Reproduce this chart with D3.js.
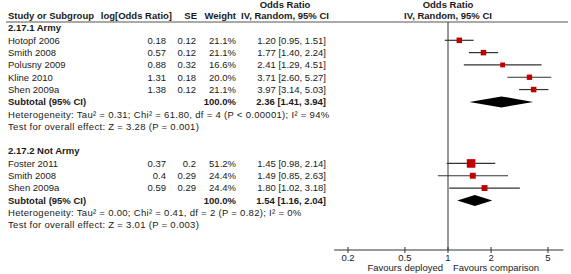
<!DOCTYPE html>
<html>
<head>
<meta charset="utf-8">
<script src="https://cdn.jsdelivr.net/npm/d3@7/dist/d3.min.js"></script>
<style>
  body { margin: 0; background: #fff; }
  svg text { font-family: "Liberation Sans", Arial, sans-serif; font-size: 9.5px; fill: #1a1a1a; }
  .b { font-weight: bold; }
  .stat { letter-spacing: 0.3px; }
</style>
</head>
<body>
<div id="chart"></div>
<script>
// subgroup 2.17.1 Army
var armyStudies = ['Hotopf 2006', 'Smith 2008', 'Polusny 2009', 'Kline 2010', 'Shen 2009a'];
var armyLogOR = ['0.18', '0.57', '0.88', '1.31', '1.38'];
var armySE = ['0.12', '0.12', '0.32', '0.18', '0.12'];
var armyWeight = [21.1, 21.1, 16.6, 20.0, 21.1];
var armyOR = [1.20, 1.77, 2.41, 3.71, 3.97];
var armyLo = [0.95, 1.40, 1.29, 2.60, 3.14];
var armyHi = [1.51, 2.24, 4.51, 5.27, 5.03];
var armyTotal = [2.36, 1.41, 3.94];
var armyHet = 'Heterogeneity: Tau\u00b2 = 0.31; Chi\u00b2 = 61.80, df = 4 (P < 0.00001); I\u00b2 = 94%';
var armyTest = 'Test for overall effect: Z = 3.28 (P = 0.001)';

// subgroup 2.17.2 Not Army
var notArmyStudies = ['Foster 2011', 'Smith 2008', 'Shen 2009a'];
var notArmyLogOR = ['0.37', '0.4', '0.59'];
var notArmySE = ['0.2', '0.29', '0.29'];
var notArmyWeight = [51.2, 24.4, 24.4];
var notArmyOR = [1.45, 1.49, 1.80];
var notArmyLo = [0.98, 0.85, 1.02];
var notArmyHi = [2.14, 2.63, 3.18];
var notArmyTotal = [1.54, 1.16, 2.04];
var notArmyHet = 'Heterogeneity: Tau\u00b2 = 0.00; Chi\u00b2 = 0.41, df = 2 (P = 0.82); I\u00b2 = 0%';
var notArmyTest = 'Test for overall effect: Z = 3.01 (P = 0.003)';

var tickValues = [0.2, 0.5, 1, 2, 5];
var axisExtent = [0.16, 6.4];

var width = 571;
var height = 274;

var svg = d3.select('#chart')
  .append('svg')
  .attr('width', width)
  .attr('height', height);

var x = d3.scaleLog().domain([0.2, 5]).range([348, 548]);
var rowY = d3.scaleLinear().domain([0, 16]).range([28, 225]);

var col = { name: 8, logOR: 166, se: 196, weight: 236, ci: 326, ciHead: 285 };

function fmt(v) { return d3.format('.2f')(v); }

// headers
svg.append('text').attr('class', 'b').attr('x', col.ciHead).attr('y', 5).attr('dy', '0.35em')
  .attr('text-anchor', 'middle').text('Odds Ratio');
svg.append('text').attr('class', 'b').attr('x', x(1)).attr('y', 5).attr('dy', '0.35em')
  .attr('text-anchor', 'middle').text('Odds Ratio');
var head = [
  { t: 'Study or Subgroup', x: col.name, a: 'start' },
  { t: 'log[Odds Ratio]', x: 172, a: 'end' },
  { t: 'SE', x: 197, a: 'end' },
  { t: 'Weight', x: col.weight, a: 'end' },
  { t: 'IV, Random, 95% CI', x: col.ciHead, a: 'middle' },
  { t: 'IV, Random, 95% CI', x: x(1), a: 'middle' }
];
svg.selectAll('.head').data(head).enter().append('text')
  .attr('class', 'head b')
  .attr('x', function (d) { return d.x; })
  .attr('y', 16).attr('dy', '0.35em')
  .attr('text-anchor', function (d) { return d.a; })
  .text(function (d) { return d.t; });

svg.append('line').attr('x1', 6).attr('x2', 568).attr('y1', 22).attr('y2', 22)
  .attr('stroke', '#555').attr('stroke-width', 1);

// null line
svg.append('line').attr('x1', x(1)).attr('x2', x(1)).attr('y1', 22).attr('y2', 250)
  .attr('stroke', '#333').attr('stroke-width', 1);

function subgroup(title, startRow, studies, logOR, se, weight, or, lo, hi, total, het, test) {
  var rows = studies.map(function (s, i) {
    return { name: s, logOR: logOR[i], se: se[i], w: weight[i], or: or[i], lo: lo[i], hi: hi[i], y: rowY(startRow + 1 + i) };
  });
  var g = svg.append('g');
  g.append('text').attr('class', 'b').attr('x', col.name).attr('y', rowY(startRow)).attr('dy', '0.35em').text(title);

  var r = g.selectAll('.row').data(rows).enter().append('g').attr('class', 'row');
  r.append('text').attr('x', col.name).attr('y', function (d) { return d.y; }).attr('dy', '0.35em')
    .text(function (d) { return d.name; });
  r.append('text').attr('x', col.logOR).attr('y', function (d) { return d.y; }).attr('dy', '0.35em')
    .attr('text-anchor', 'end').text(function (d) { return d.logOR; });
  r.append('text').attr('x', col.se).attr('y', function (d) { return d.y; }).attr('dy', '0.35em')
    .attr('text-anchor', 'end').text(function (d) { return d.se; });
  r.append('text').attr('x', col.weight).attr('y', function (d) { return d.y; }).attr('dy', '0.35em')
    .attr('text-anchor', 'end').text(function (d) { return d3.format('.1f')(d.w) + '%'; });
  r.append('text').attr('x', col.ci).attr('y', function (d) { return d.y; }).attr('dy', '0.35em')
    .attr('text-anchor', 'end').text(function (d) { return fmt(d.or) + ' [' + fmt(d.lo) + ', ' + fmt(d.hi) + ']'; });

  r.append('line')
    .attr('x1', function (d) { return x(d.lo); })
    .attr('x2', function (d) { return x(d.hi); })
    .attr('y1', function (d) { return d.y; })
    .attr('y2', function (d) { return d.y; })
    .attr('stroke', '#333').attr('stroke-width', 1.2);
  r.append('rect')
    .attr('x', function (d) { return x(d.or) - Math.sqrt(d.w) * 0.6; })
    .attr('y', function (d) { return d.y - Math.sqrt(d.w) * 0.6; })
    .attr('width', function (d) { return Math.sqrt(d.w) * 1.2; })
    .attr('height', function (d) { return Math.sqrt(d.w) * 1.2; })
    .attr('fill', '#c00000');

  var sy = rowY(startRow + 1 + studies.length);
  g.append('text').attr('class', 'b').attr('x', col.name).attr('y', sy).attr('dy', '0.35em').text('Subtotal (95% CI)');
  g.append('text').attr('class', 'b').attr('x', col.weight).attr('y', sy).attr('dy', '0.35em')
    .attr('text-anchor', 'end').text('100.0%');
  g.append('text').attr('class', 'b').attr('x', col.ci).attr('y', sy).attr('dy', '0.35em')
    .attr('text-anchor', 'end').text(fmt(total[0]) + ' [' + fmt(total[1]) + ', ' + fmt(total[2]) + ']');
  g.append('path')
    .attr('d', 'M' + x(total[1]) + ',' + sy + 'L' + x(total[0]) + ',' + (sy - 5.5) +
      'L' + x(total[2]) + ',' + sy + 'L' + x(total[0]) + ',' + (sy + 5.5) + 'Z')
    .attr('fill', '#000');

  g.append('text').attr('class', 'stat').attr('x', col.name).attr('y', sy + 12.5).attr('dy', '0.35em').text(het);
  g.append('text').attr('class', 'stat').attr('x', col.name).attr('y', sy + 24.5).attr('dy', '0.35em').text(test);
}

subgroup('2.17.1 Army', 0, armyStudies, armyLogOR, armySE, armyWeight, armyOR, armyLo, armyHi, armyTotal, armyHet, armyTest);
subgroup('2.17.2 Not Army', 10, notArmyStudies, notArmyLogOR, notArmySE, notArmyWeight, notArmyOR, notArmyLo, notArmyHi, notArmyTotal, notArmyHet, notArmyTest);

// axis
var axis = svg.append('g').attr('transform', 'translate(0,250)');
axis.append('line').attr('x1', x(axisExtent[0])).attr('x2', x(axisExtent[1]))
  .attr('stroke', '#333').attr('stroke-width', 1);
axis.selectAll('.tick').data(tickValues).enter().append('line')
  .attr('x1', function (d) { return x(d); }).attr('x2', function (d) { return x(d); })
  .attr('y1', -3).attr('y2', 3).attr('stroke', '#333');
axis.selectAll('.tl').data(tickValues).enter().append('text')
  .attr('x', function (d) { return x(d); }).attr('y', 8).attr('dy', '0.35em')
  .attr('text-anchor', 'middle').text(function (d) { return d; });
axis.append('text').attr('x', x(1) - 5).attr('y', 18).attr('dy', '0.35em')
  .attr('text-anchor', 'end').text('Favours deployed');
axis.append('text').attr('x', x(1) + 5).attr('y', 18).attr('dy', '0.35em')
  .attr('text-anchor', 'start').text('Favours comparison');
</script>
</body>
</html>
